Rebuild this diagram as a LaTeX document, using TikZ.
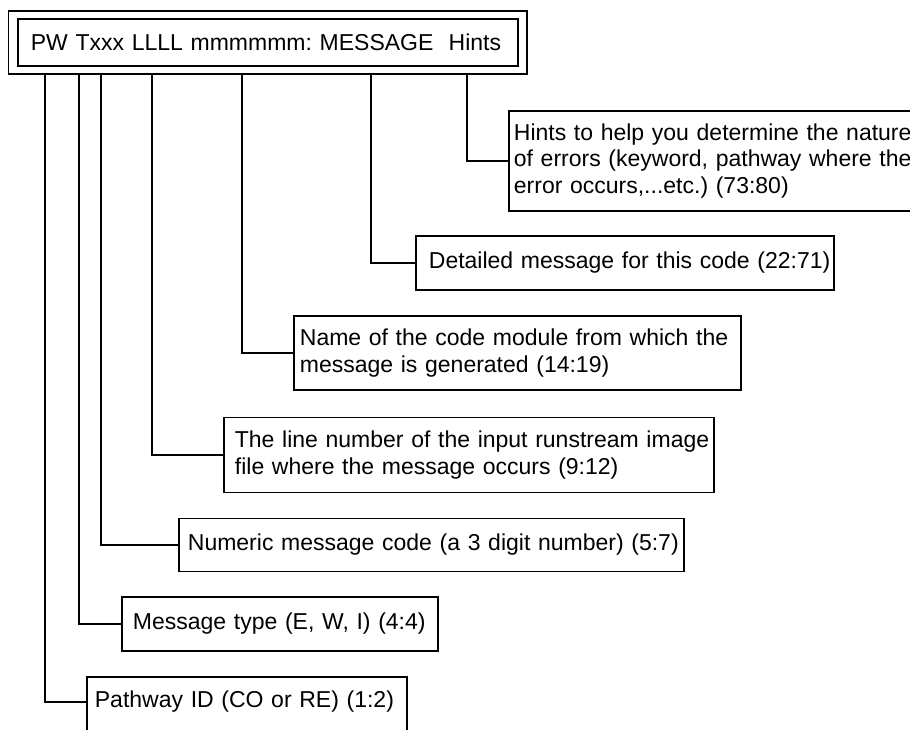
\documentclass[tikz,border=0pt]{standalone}
\usepackage{fontspec}
\setmainfont{Liberation Sans}
\usetikzlibrary{fit,calc}
\frenchspacing
\begin{document}
\begin{tikzpicture}[x=1pt,y=-1pt, line width=1.8pt,
  every node/.style={font=\fontsize{23}{26.5}\selectfont},
  box/.style={draw, line width=1.8pt, rectangle, align=left, inner ysep=0pt, anchor=west},
  link/.style={draw, line width=1.8pt},
]
\clip (0,0) rectangle (910,730);
\fill[white] (0,0) rectangle (910,730);

% header
\node (hdr) [draw, line width=1.8pt, anchor=north west, minimum height=47, text width=474,
  inner xsep=13, inner ysep=0, align=left] at (17,18) {\mbox{PW Txxx LLLL mmmmmm: MESSAGE~~Hints}};
\node (frame) [draw, line width=1.8pt, fit=(hdr), inner xsep=8.5, inner ysep=7] {};

% boxes
\node (hints) [box, minimum height=100, text width=420, inner xsep=5] at (508,161)
  {\mbox{Hints to help you determine the nature}\\\mbox{of errors (keyword, pathway where the}\\\mbox{error occurs,...etc.) (73:80)}};
\node (det) [box, minimum height=54, text width=392, inner xsep=13] at (415,263)
  {\mbox{Detailed message for this code (22:71)}};
\node (name) [box, minimum height=74, text width=435, inner xsep=6] at (293,353)
  {\mbox{Name of the code module from which the}\\\mbox{message is generated (14:19)}};
\node (line) [box, minimum height=75, text width=468, inner xsep=11] at (223,455)
  {\mbox{The line number of the input runstream image}\\\mbox{file where the message occurs (9:12)}};
\node (num) [box, minimum height=53, text width=487, inner xsep=9] at (178,545)
  {\mbox{Numeric message code (a 3 digit number) (5:7)}};
\node (mtype) [box, minimum height=54, text width=294, inner xsep=11] at (121,624)
  {\mbox{Message type (E, W, I) (4:4)}};
\node (pw) [box, draw=none, minimum height=48, text width=304, inner xsep=7] at (87,702)
  {\mbox{Pathway ID (CO or RE) (1:2)}};
\draw[link] ($(pw.north west)+(0,70)$) -- (pw.north west) -- (pw.north east) -- ++(0,70);

% tap points on the frame
\coordinate (t1) at (467,0 |- frame.south);
\coordinate (t2) at (371,0 |- frame.south);
\coordinate (t3) at (242,0 |- frame.south);
\coordinate (t4) at (152,0 |- frame.south);
\coordinate (t5) at (101,0 |- frame.south);
\coordinate (t6) at (79,0 |- frame.south);
\coordinate (t7) at (45,0 |- frame.south);

\draw[link] (t1) |- (hints.west);
\draw[link] (t2) |- (det.west);
\draw[link] (t3) |- (name.west);
\draw[link] (t4) |- (line.west);
\draw[link] (t5) |- (num.west);
\draw[link] (t6) |- (mtype.west);
\draw[link] (t7) |- (pw.west);
\end{tikzpicture}
\end{document}
